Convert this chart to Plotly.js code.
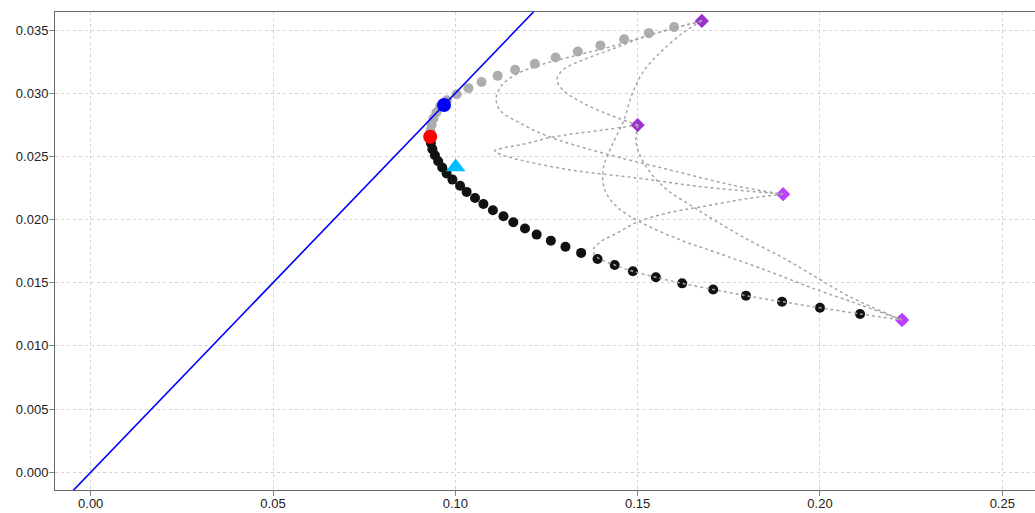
<!DOCTYPE html>
<html>
<head>
<meta charset="utf-8">
<script src="https://cdn.plot.ly/plotly-3.0.1.min.js"></script>
<style>
  html, body { margin: 0; padding: 0; background: #ffffff; }
  #chart { width: 1035px; height: 513px; }
</style>
</head>
<body>
<div id="chart"></div>
<script>
// ---- Efficient frontier points (risk, return), from lowest return to highest ----
const frontierRisk = [
  0.2225, 0.2110, 0.2000, 0.1896, 0.1797, 0.1707, 0.1622, 0.1550, 0.1487, 0.1437,
  0.1390, 0.1345, 0.1302, 0.1262, 0.1223, 0.1191, 0.1159, 0.1132, 0.1103, 0.1077,
  0.1054, 0.1031, 0.1013, 0.0992, 0.0976, 0.0964, 0.0953, 0.0944, 0.0937, 0.0933,
  0.0931, 0.0932, 0.0935, 0.0940, 0.0948, 0.0958, 0.0977, 0.1004, 0.1036, 0.1072,
  0.1116, 0.1164, 0.1218, 0.1275, 0.1336, 0.1398, 0.1463, 0.1531, 0.1600, 0.1676
];
const frontierReturn = [
  0.01205, 0.01253, 0.01302, 0.01350, 0.01398, 0.01447, 0.01495, 0.01543, 0.01591, 0.01640,
  0.01688, 0.01736, 0.01785, 0.01833, 0.01881, 0.01929, 0.01978, 0.02026, 0.02074, 0.02123,
  0.02171, 0.02219, 0.02267, 0.02316, 0.02364, 0.02412, 0.02461, 0.02509, 0.02557, 0.02605,
  0.02654, 0.02702, 0.02750, 0.02799, 0.02847, 0.02895, 0.02944, 0.02992, 0.03040, 0.03088,
  0.03137, 0.03185, 0.03233, 0.03282, 0.03330, 0.03378, 0.03427, 0.03475, 0.03523, 0.03571
];
const splitIndex = 30; // below: inefficient (black), from here up: efficient (gray)

// ---- Assets ----
const assetRisk   = [0.1676, 0.1500, 0.1899, 0.2225];
const assetReturn = [0.03572, 0.02748, 0.02201, 0.01205];
const assetColors = ['#9932CC', '#9932CC', '#BF3EFF', '#BF3EFF'];

// ---- Two-asset curves ----
const curveAB_x = [0.1676, 0.1534, 0.1424, 0.1350, 0.1295, 0.1279, 0.1295, 0.1350, 0.1424, 0.1501];
const curveAB_y = [0.03572, 0.03461, 0.03342, 0.03263, 0.03184, 0.03105, 0.03025, 0.02922, 0.02827, 0.02748];

const curveAC_x = [0.1676, 0.1534, 0.1424, 0.1334, 0.1224, 0.1169, 0.1128, 0.1112, 0.1122, 0.1177, 0.1260, 0.1405, 0.1589, 0.1772, 0.1899];
const curveAC_y = [0.03572, 0.03461, 0.03366, 0.03302, 0.03215, 0.03152, 0.03065, 0.02962, 0.02867, 0.02764, 0.02653, 0.02526, 0.02392, 0.02265, 0.02201];

const curveAD_x = [0.1676, 0.1624, 0.1561, 0.1515, 0.1484, 0.1463, 0.1430, 0.1405, 0.1410, 0.1443, 0.1506, 0.1616, 0.1718, 0.1863, 0.1992, 0.2110, 0.2225];
const curveAD_y = [0.03572, 0.03477, 0.03319, 0.03169, 0.02987, 0.02789, 0.02591, 0.02394, 0.02235, 0.02101, 0.01982, 0.01840, 0.01737, 0.01587, 0.01444, 0.01326, 0.01205];

const curveBC_x = [0.1501, 0.1405, 0.1268, 0.1177, 0.1130, 0.1108, 0.1128, 0.1177, 0.1314, 0.1498, 0.1679, 0.1863, 0.1899];
const curveBC_y = [0.02748, 0.02709, 0.02653, 0.02590, 0.02566, 0.02543, 0.02511, 0.02472, 0.02393, 0.02329, 0.02258, 0.02210, 0.02201];

const curveBD_x = [0.1501, 0.1495, 0.1506, 0.1534, 0.1581, 0.1652, 0.1718, 0.1808, 0.1899, 0.1992, 0.2082, 0.2225];
const curveBD_y = [0.02748, 0.02629, 0.02511, 0.02376, 0.02234, 0.02101, 0.01982, 0.01832, 0.01697, 0.01539, 0.01389, 0.01205];

const curveCD_x = [0.1899, 0.1808, 0.1671, 0.1581, 0.1498, 0.1443, 0.1397, 0.1378, 0.1389, 0.1437, 0.1487, 0.1550, 0.1622, 0.1707, 0.1797, 0.1896, 0.2000, 0.2110, 0.2225];
const curveCD_y = [0.02201, 0.02169, 0.02099, 0.02051, 0.01979, 0.01892, 0.01821, 0.01758, 0.01702, 0.01640, 0.01591, 0.01543, 0.01495, 0.01447, 0.01398, 0.01350, 0.01302, 0.01253, 0.01205];

// ---- Special portfolios ----
const minVar      = {risk: [0.0931], ret: [0.02655]};
const tangency    = {risk: [0.0969], ret: [0.02907]};
const equalWeight = {risk: [0.1001], ret: [0.02416]};

// ---- Capital market line (end points) ----
const cmlRisk   = [-0.0060, 0.1250];
const cmlReturn = [-0.0018, 0.0375];

// ---- Ticks ----
const xTickVals = [0.00, 0.05, 0.10, 0.15, 0.20, 0.25];
const xTickText = ['0.00', '0.05', '0.10', '0.15', '0.20', '0.25'];
const yTickVals = [0.000, 0.005, 0.010, 0.015, 0.020, 0.025, 0.030, 0.035];
const yTickText = ['0.000', '0.005', '0.010', '0.015', '0.020', '0.025', '0.030', '0.035'];

const curveLine = {color: '#a6a6a6', width: 1.5, dash: 'dot', shape: 'spline', smoothing: 1};
function curve(x, y) {
  return {x: x, y: y, type: 'scatter', mode: 'lines', line: curveLine, hoverinfo: 'skip'};
}

const traces = [
  {
    x: frontierRisk.slice(0, splitIndex), y: frontierReturn.slice(0, splitIndex),
    type: 'scatter', mode: 'markers',
    marker: {color: '#111111', size: 10}
  },
  {
    x: frontierRisk.slice(splitIndex), y: frontierReturn.slice(splitIndex),
    type: 'scatter', mode: 'markers',
    marker: {color: '#adadad', size: 10}
  },
  {
    x: assetRisk, y: assetReturn, type: 'scatter', mode: 'markers',
    marker: {color: assetColors, size: 11, symbol: 'diamond'}
  },
  curve(curveAB_x, curveAB_y),
  curve(curveAC_x, curveAC_y),
  curve(curveAD_x, curveAD_y),
  curve(curveBC_x, curveBC_y),
  curve(curveBD_x, curveBD_y),
  curve(curveCD_x, curveCD_y),
  {
    x: cmlRisk, y: cmlReturn, type: 'scatter', mode: 'lines',
    line: {color: '#0000ff', width: 1.6}
  },
  {
    x: minVar.risk, y: minVar.ret, type: 'scatter', mode: 'markers',
    marker: {color: '#ff0000', size: 14}
  },
  {
    x: tangency.risk, y: tangency.ret, type: 'scatter', mode: 'markers',
    marker: {color: '#0000ff', size: 14}
  },
  {
    x: equalWeight.risk, y: equalWeight.ret, type: 'scatter', mode: 'markers',
    marker: {color: '#00bfff', size: 17, symbol: 'triangle-up'}
  }
];

const layout = {
  width: 1035, height: 513,
  margin: {l: 55, r: 0, t: 12, b: 23, pad: 0},
  showlegend: false,
  hovermode: false,
  paper_bgcolor: '#ffffff',
  plot_bgcolor: '#ffffff',
  font: {family: 'Liberation Sans, Arial, sans-serif', size: 13, color: '#222222'},
  xaxis: {
    range: [-0.00979, 0.25897],
    tickvals: xTickVals, ticktext: xTickText,
    showline: true, mirror: true, linecolor: '#666666', linewidth: 1,
    ticks: 'outside', ticklen: 5, tickcolor: '#888888', tickwidth: 1,
    ticklabelstandoff: -4,
    showgrid: true, gridcolor: '#d3d3d3', gridwidth: 1, griddash: 'dot',
    zeroline: false
  },
  yaxis: {
    range: [-0.001401, 0.036424],
    tickvals: yTickVals, ticktext: yTickText,
    showline: true, mirror: false, linecolor: '#666666', linewidth: 1,
    ticks: 'outside', ticklen: 5, tickcolor: '#888888', tickwidth: 1,
    ticklabelstandoff: -2,
    showgrid: true, gridcolor: '#d3d3d3', gridwidth: 1, griddash: 'dot',
    zeroline: false
  }
};

Plotly.newPlot('chart', traces, layout, {staticPlot: true, displayModeBar: false});
</script>
</body>
</html>
